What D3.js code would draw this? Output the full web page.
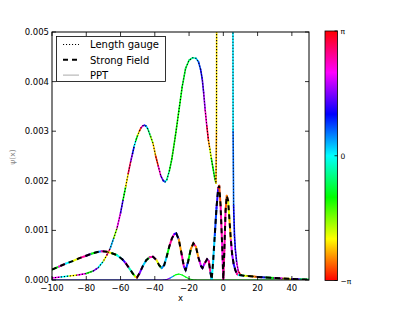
<!DOCTYPE html>
<html>
<head>
<meta charset="utf-8">
<script src="https://cdn.jsdelivr.net/npm/d3@7"></script>
<style>
  body { margin: 0; background: #fff; }
  text { font-family: "DejaVu Sans", sans-serif; }
</style>
</head>
<body>
<svg id="chart" width="415" height="312"></svg>
<script>
// values in units of 1e-3, phase in radians
const lgX = [-100, -95, -90, -85, -80, -76, -73, -70, -68, -66, -64, -62, -60, -58.5, -57, -55.5, -54, -53, -52, -51, -50, -49, -48, -47, -46, -45, -44, -42.5, -41, -39.5, -38, -36.5, -35, -34, -33, -31.5, -30, -28, -26, -24, -22, -20, -18, -16, -14.5, -13.3, -12.3, -11.5, -10.6, -9.6, -8.7, -7.9, -7, -6, -5, -4.3, -4, -3.8, -3.5, 0, 5.2, 5.5, 5.7, 6, 6.5, 7, 7.8, 8.8, 10, 12, 15, 18, 22, 26, 30, 35, 40, 45, 50];
const lgY = [0.04, 0.06, 0.08, 0.1, 0.13, 0.18, 0.25, 0.38, 0.5, 0.64, 0.84, 1.05, 1.35, 1.62, 1.88, 2.15, 2.4, 2.55, 2.7, 2.82, 2.92, 3.0, 3.07, 3.11, 3.12, 3.1, 3.04, 2.9, 2.75, 2.5, 2.3, 2.1, 2.0, 1.98, 2.02, 2.2, 2.45, 2.9, 3.4, 3.9, 4.27, 4.43, 4.48, 4.47, 4.4, 4.25, 4.05, 3.78, 3.43, 3.09, 2.82, 2.65, 2.45, 2.25, 2.05, 1.95, 3.0, 8, 30, 60, 30, 8, 3.0, 1.5, 0.9, 0.62, 0.35, 0.17, 0.11, 0.09, 0.08, 0.07, 0.06, 0.05, 0.04, 0.03, 0.02, 0.015, 0.01];
const lgPhase = [2.1, 0.0, -2.1, 2.1, -1.0, 1.6, 0.0, -2.1, 2.6, 0.3, -1.6, 2.1, 1.3, -1.0, -2.2, 2.8, 1.6, 1.0, 0.0, -1.0, -2.0, -2.9, 2.4, 1.6, 0.9, 0.2, -0.6, -1.6, -2.3, -3.0, 2.3, 1.5, 1.0, 0.1, -0.5, -1.0, -1.1, -1.1, -1.0, -0.9, -0.8, -0.6, -0.3, 0.3, 0.8, 1.1, 1.4, 1.7, 2.3, 2.9, -2.5, -1.9, -1.1, -1.0, -1.3, -2.4, -2.2, -2.2, -2.2, 0.0, 0.0, 0.1, 0.6, 1.0, 1.1, 1.3, 2.0, 2.8, -2.1, 0.0, -1.0, 2.5, -2.1, 1.0, -1.5, 2.0, 0.0, -2.5, 1.5];

const sfX = [-100, -96, -92, -88, -84, -80, -77, -74, -71, -68, -65, -62, -59, -57, -55, -53, -51.5, -50.4, -49, -47, -45, -43, -41, -39, -37.5, -36, -34.5, -33, -31.5, -30, -28.5, -27.5, -26, -24.5, -23, -22, -20.5, -19, -17.5, -16, -14.5, -13, -12.2, -11, -9.5, -8.5, -7.5, -6.8, -6, -5, -4, -3, -2.4, -1.6, -0.8, 0, 0.6, 1.3, 2, 2.8, 3.6, 4.4, 5.2, 6, 7, 8, 9, 12, 16, 20, 25, 30, 35, 40, 45, 50];
const sfY = [0.21, 0.27, 0.33, 0.38, 0.44, 0.49, 0.53, 0.56, 0.58, 0.57, 0.54, 0.5, 0.42, 0.34, 0.24, 0.14, 0.07, 0.05, 0.13, 0.28, 0.4, 0.46, 0.47, 0.4, 0.3, 0.24, 0.3, 0.48, 0.68, 0.84, 0.93, 0.94, 0.82, 0.55, 0.27, 0.2, 0.38, 0.62, 0.74, 0.67, 0.45, 0.28, 0.24, 0.33, 0.42, 0.38, 0.15, 0.01, 0.35, 0.9, 1.45, 1.85, 1.9, 1.5, 0.8, 0.02, 0.6, 1.4, 1.7, 1.6, 1.2, 0.8, 0.5, 0.33, 0.2, 0.12, 0.1, 0.085, 0.075, 0.06, 0.05, 0.04, 0.03, 0.02, 0.013, 0.008];
const sfPhase = [-1.0, 2.2, 0.0, -2.0, 2.5, 1.5, -1.0, 0.5, 2.4, -2.2, -1.0, 0.0, 1.2, 2.2, -0.3, -1.2, -2.2, 2.8, 1.5, 0.2, -0.9, 2.4, 2.0, -2.0, -1.0, 0.5, 0.2, -1.0, 2.5, 2.2, 1.2, 1.0, -2.5, 2.4, 1.5, 0.8, -1.0, -2.6, 2.6, -2.5, 2.0, 1.2, 1.6, 2.3, 1.7, 2.6, 0.5, 0.0, 0.2, 0.8, 1.2, 2.8, -2.8, 2.4, 2.2, 2.5, 2.4, -2.8, -2.6, -2.0, -2.4, 2.0, 1.6, 1.2, 2.0, 2.6, 0.0, -2.0, -2.6, 1.0, -1.0, 2.0, -2.0, 1.5, -0.5, 2.5];

const pptX = [-100, -60, -40, -35, -33, -31, -29, -27.5, -26, -24, -22, -20, -18, -16, 0, 50];
const pptY = [0, 0, 0, 0, 0.01, 0.04, 0.08, 0.11, 0.12, 0.1, 0.06, 0.025, 0.005, 0, 0, 0];
const pptPhase = [1.0, 1.0, 1.2, 1.2, 1.6, 0.5, -1.0, -1.0, -1.0, -1.0, -1.0, -1.0, -1.0, -1.0, -1.0, -1.0];

const xTicks = [-100, -80, -60, -40, -20, 0, 20, 40];
const yTicks = [0, 1, 2, 3, 4, 5];
const yTickLabels = ["0.000", "0.001", "0.002", "0.003", "0.004", "0.005"];
const cbTicks = [-Math.PI, 0, Math.PI];
const cbTickLabels = ["\u2212\u03c0", "0", "\u03c0"];
const legendLabels = ["Length gauge", "Strong Field", "PPT"];

const svg = d3.select("#chart");
const pLeft = 52, pRight = 309, pTop = 32, pBottom = 280;

const x = d3.scaleLinear().domain([-100, 50]).range([pLeft, pRight]);
const y = d3.scaleLinear().domain([0, 5]).range([pBottom, pTop]);

// hsv colormap, -pi .. pi
const phaseColor = p => d3.hsl((p + Math.PI) / (2 * Math.PI) * 360, 1, 0.5).toString();

const defs = svg.append("defs");
defs.append("clipPath").attr("id", "plotClip")
  .append("rect").attr("x", pLeft).attr("y", pTop)
  .attr("width", pRight - pLeft).attr("height", pBottom - pTop);

const plot = svg.append("g").attr("clip-path", "url(#plotClip)");

const seg = d3.line().x(d => x(d[0])).y(d => y(d[1]));

function drawColored(xs, ys, ph, width) {
  const g = plot.append("g");
  for (let i = 0; i < xs.length - 1; i++) {
    g.append("path")
      .attr("d", seg([[xs[i], ys[i]], [xs[i + 1], ys[i + 1]]]))
      .attr("fill", "none")
      .attr("stroke", phaseColor(ph[i]))
      .attr("stroke-width", width)
      .attr("stroke-linecap", "round");
  }
}

function drawBlack(xs, ys, width, dash) {
  plot.append("path")
    .attr("d", seg(xs.map((v, i) => [v, ys[i]])))
    .attr("fill", "none")
    .attr("stroke", "#000")
    .attr("stroke-width", width)
    .attr("stroke-dasharray", dash);
}

drawColored(pptX, pptY, pptPhase, 1.2);
drawColored(lgX, lgY, lgPhase, 1.6);
drawColored(sfX, sfY, sfPhase, 2);
drawBlack(lgX, lgY, 1.1, "1.1,1.9");
drawBlack(sfX, sfY, 2, "5,4");

// frame
svg.append("rect").attr("x", pLeft).attr("y", pTop)
  .attr("width", pRight - pLeft).attr("height", pBottom - pTop)
  .attr("fill", "none").attr("stroke", "#000").attr("stroke-width", 1);

// ticks (inside, all four sides)
const tk = svg.append("g").attr("stroke", "#000").attr("stroke-width", 0.8);
xTicks.forEach(t => {
  tk.append("line").attr("x1", x(t)).attr("x2", x(t)).attr("y1", pBottom).attr("y2", pBottom - 4);
  tk.append("line").attr("x1", x(t)).attr("x2", x(t)).attr("y1", pTop).attr("y2", pTop + 4);
});
yTicks.forEach(t => {
  tk.append("line").attr("x1", pLeft).attr("x2", pLeft + 4).attr("y1", y(t)).attr("y2", y(t));
  tk.append("line").attr("x1", pRight).attr("x2", pRight - 4).attr("y1", y(t)).attr("y2", y(t));
});

svg.append("g").selectAll("text").data(xTicks).join("text")
  .attr("x", d => x(d)).attr("y", 290.5)
  .attr("text-anchor", "middle").attr("font-size", 8.5)
  .text(d => d < 0 ? "\u2212" + Math.abs(d) : d);

svg.append("g").selectAll("text").data(yTicks).join("text")
  .attr("x", pLeft - 3).attr("y", d => y(d) + 3)
  .attr("text-anchor", "end").attr("font-size", 8.5)
  .text((d, i) => yTickLabels[i]);

svg.append("text").attr("x", (pLeft + pRight) / 2).attr("y", 300.5)
  .attr("text-anchor", "middle").attr("font-size", 8.5).text("x");

svg.append("text").attr("transform", "translate(15,157) rotate(-90)")
  .attr("text-anchor", "middle").attr("font-size", 7.5).attr("fill", "#888")
  .text("\u03c8(x)");

// legend
const lg = svg.append("g");
lg.append("rect").attr("x", 56.5).attr("y", 36.5).attr("width", 109).attr("height", 45)
  .attr("fill", "#fff").attr("stroke", "#000").attr("stroke-width", 0.8);
const legendStyles = [
  { w: 1.1, dash: "1.1,1.9", color: "#000" },
  { w: 2, dash: "5,4", color: "#000" },
  { w: 1, dash: null, color: "#aaa" }
];
legendLabels.forEach((lab, i) => {
  const yy = 44.5 + i * 15.3;
  lg.append("line").attr("x1", 63).attr("x2", 79).attr("y1", yy).attr("y2", yy)
    .attr("stroke", legendStyles[i].color).attr("stroke-width", legendStyles[i].w)
    .attr("stroke-dasharray", legendStyles[i].dash);
  lg.append("text").attr("x", 90).attr("y", yy + 3.7).attr("font-size", 10).text(lab);
});

// colorbar
const cbLeft = 325, cbRight = 337.5, cbTop = 31, cbBottom = 280.5;
const cb = d3.scaleLinear().domain([-Math.PI, Math.PI]).range([cbBottom, cbTop]);
const grad = defs.append("linearGradient").attr("id", "hsvGrad")
  .attr("x1", 0).attr("y1", 1).attr("x2", 0).attr("y2", 0);
d3.range(0, 1.0001, 1 / 24).forEach(t => {
  grad.append("stop").attr("offset", t)
    .attr("stop-color", phaseColor(-Math.PI + t * 2 * Math.PI));
});
svg.append("rect").attr("x", cbLeft).attr("y", cbTop)
  .attr("width", cbRight - cbLeft).attr("height", cbBottom - cbTop)
  .attr("fill", "url(#hsvGrad)").attr("stroke", "#000").attr("stroke-width", 0.8);
cbTicks.forEach((t, i) => {
  svg.append("line").attr("x1", cbRight - 3).attr("x2", cbRight).attr("y1", cb(t)).attr("y2", cb(t))
    .attr("stroke", "#000").attr("stroke-width", 0.8);
  svg.append("text").attr("x", cbRight + 3).attr("y", cb(t) + 3)
    .attr("font-size", 7.5).text(cbTickLabels[i]);
});
</script>
</body>
</html>
